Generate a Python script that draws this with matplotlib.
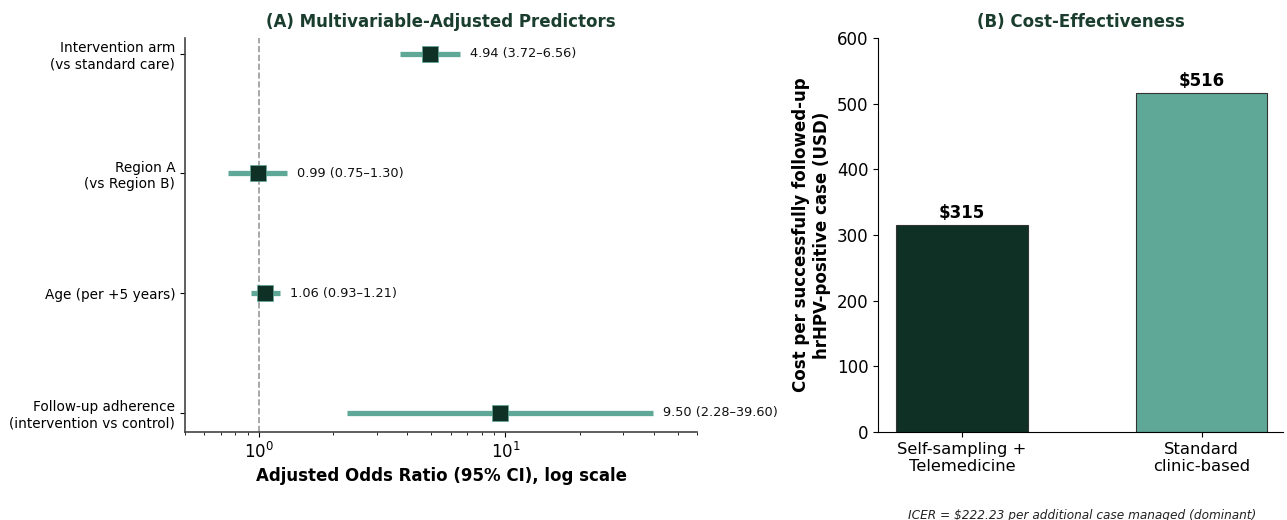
import matplotlib
matplotlib.use("Agg")
import matplotlib.pyplot as plt
import numpy as np

# ---- data ----
predictors = ["Intervention arm\n(vs standard care)", "Region A\n(vs Region B)",
              "Age (per +5 years)", "Follow-up adherence\n(intervention vs control)"]
odds_ratio = [4.94, 0.99, 1.06, 9.50]
ci_low = [3.72, 0.75, 0.93, 2.28]
ci_high = [6.56, 1.30, 1.21, 39.60]

strategies = ["Self-sampling +\nTelemedicine", "Standard\nclinic-based"]
cost_per_case = [315, 516]
icer_text = "ICER = $222.23 per additional case managed (dominant)"

dark = "#0f3024"
teal = "#5fa898"
title_col = "#1a3d2e"

fig = plt.figure(figsize=(12.87, 5.2), dpi=100)
axA = fig.add_axes([185/1287, 1-432/520, (697-185)/1287, (432-38)/520])
axB = fig.add_axes([878/1287, 1-432/520, (1283-878)/1287, (432-38)/520])

# ---- Panel A ----
n = len(predictors)
ypos = np.arange(n)[::-1]
axA.axvline(1.0, color="#999999", ls="--", lw=1.2, zorder=1)
for y, o, lo, hi in zip(ypos, odds_ratio, ci_low, ci_high):
    axA.plot([lo, hi], [y, y], color=teal, lw=3.8, solid_capstyle="butt", zorder=2)
    axA.plot([o], [y], marker="s", ms=11, color=dark, mec=teal, mew=0.5, zorder=3)
    axA.text(hi * 1.1, y, f"{o:.2f} ({lo:.2f}\u2013{hi:.2f})", va="center", ha="left",
             fontsize=9.3, color="#111111")
axA.set_xscale("log")
axA.set_xlim(0.5, 60)
axA.set_ylim(-0.16, 3.13)
axA.set_yticks(ypos)
axA.set_yticklabels(predictors, fontsize=9.8)
axA.tick_params(axis="x", labelsize=12)
axA.set_xlabel("Adjusted Odds Ratio (95% CI), log scale", fontsize=12, fontweight="bold")
axA.set_title("(A) Multivariable-Adjusted Predictors", fontsize=12, fontweight="bold",
              color=title_col, pad=8)
for s in ["top", "right"]:
    axA.spines[s].set_visible(False)
for s in ["left", "bottom"]:
    axA.spines[s].set_color("#444444")
    axA.spines[s].set_linewidth(1.2)

# ---- Panel B ----
xb = np.arange(len(strategies))
bars = axB.bar(xb, cost_per_case, width=0.55, color=[dark, teal], edgecolor="#333333", lw=0.8)
for b, v in zip(bars, cost_per_case):
    axB.text(b.get_x() + b.get_width()/2, v + 5, f"${v}", ha="center", va="bottom",
             fontsize=12, fontweight="bold")
axB.set_xticks(xb)
axB.set_xticklabels(strategies, fontsize=11.8)
axB.set_xlim(-0.35, 1.34)
axB.set_ylim(0, 600)
axB.set_yticks(np.arange(0, 601, 100))
axB.tick_params(axis="y", labelsize=12)
axB.set_ylabel("Cost per successfully followed-up\nhrHPV-positive case (USD)", fontsize=12,
               fontweight="bold")
axB.set_title("(B) Cost-Effectiveness", fontsize=12, fontweight="bold", color=title_col, pad=8)
for s in ["top", "right"]:
    axB.spines[s].set_visible(False)
fig.text(1082/1287, 1-515/520, icer_text, ha="center", va="center", fontsize=8.7,
         style="italic", color="#222222")

fig.savefig("out.png", dpi=100)
